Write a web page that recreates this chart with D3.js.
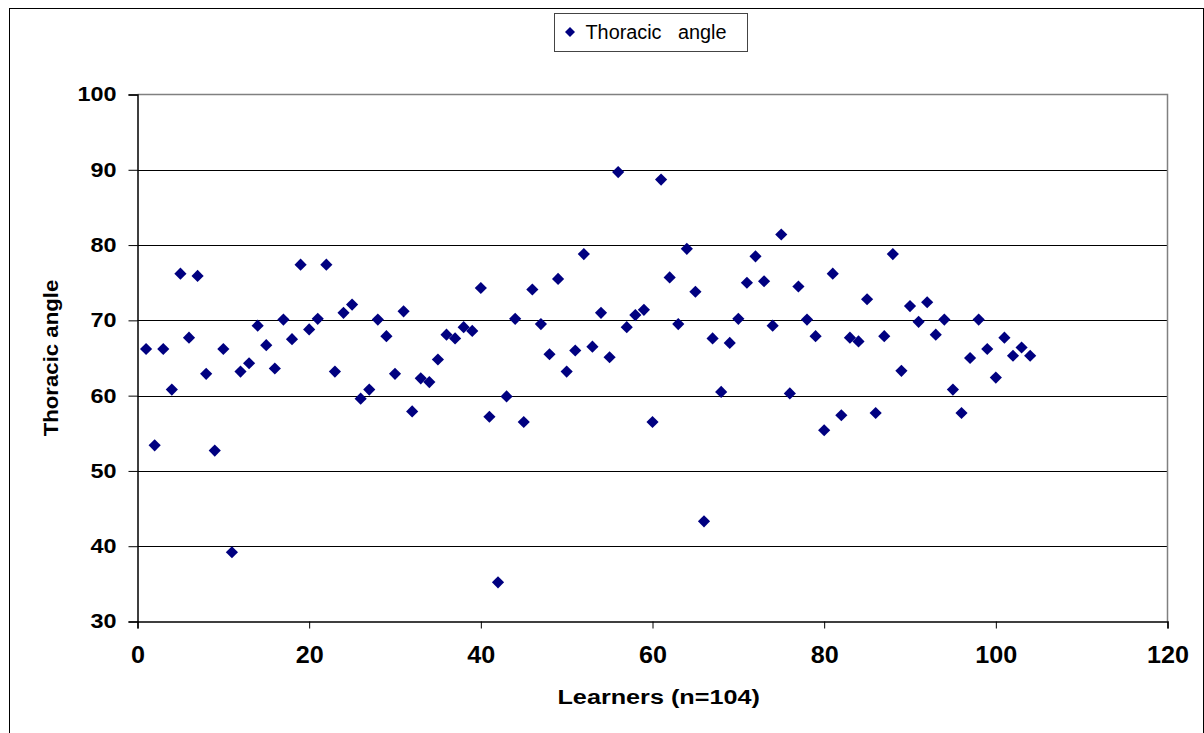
<!DOCTYPE html>
<html>
<head>
<meta charset="utf-8">
<script src="https://cdn.jsdelivr.net/npm/d3@7"></script>
<style>
  html, body { margin: 0; padding: 0; background: #fff; }
  svg { display: block; font-family: "Liberation Sans", Arial, sans-serif; }
</style>
</head>
<body>
<svg id="chart" width="1204" height="733"></svg>
<script>
// Thoracic angle per learner (learner number 1..104)
const learners = d3.range(1, 105);
const thoracicAngle = [
  66.2, 53.4, 66.2, 60.8, 76.2, 67.7, 75.9, 62.9, 52.7, 66.2,
  39.2, 63.2, 64.3, 69.3, 66.7, 63.6, 70.1, 67.5, 77.4, 68.8,
  70.2, 77.4, 63.2, 71.0, 72.1, 59.6, 60.8, 70.1, 67.9, 62.9,
  71.2, 57.9, 62.3, 61.8, 64.8, 68.1, 67.6, 69.1, 68.6, 74.3,
  57.2, 35.2, 59.9, 70.2, 56.5, 74.1, 69.5, 65.5, 75.5, 63.2,
  66.0, 78.8, 66.5, 71.0, 65.1, 89.7, 69.1, 70.7, 71.4, 56.5,
  88.7, 75.7, 69.5, 79.5, 73.8, 43.3, 67.6, 60.5, 67.0, 70.2,
  75.0, 78.5, 75.2, 69.3, 81.4, 60.3, 74.5, 70.1, 67.9, 55.4,
  76.2, 57.4, 67.7, 67.2, 72.8, 57.7, 67.9, 78.8, 63.3, 71.9,
  69.8, 72.4, 68.1, 70.1, 60.8, 57.7, 65.0, 70.1, 66.2, 62.4,
  67.7, 65.3, 66.4, 65.3
];
const xTicks = [0, 20, 40, 60, 80, 100, 120];
const yTicks = [30, 40, 50, 60, 70, 80, 90, 100];
const seriesName = "Thoracic   angle";
const xTitle = "Learners (n=104)";
const yTitle = "Thoracic angle";

const svg = d3.select("#chart");
const plot = { left: 137.5, right: 1167.5, top: 94.5, bottom: 621.5 };
const markColor = "#000080";
const font = "'Liberation Sans', Arial, sans-serif";

const x = d3.scaleLinear().domain([0, 120]).range([plot.left, plot.right]);
const y = d3.scaleLinear().domain([30, 100]).range([plot.bottom, plot.top]);

// Widen text horizontally by a factor (the labels use a broad face)
function widen(sel, factor) {
  sel.each(function () {
    const len = this.getComputedTextLength();
    d3.select(this)
      .attr("textLength", len * factor)
      .attr("lengthAdjust", "spacingAndGlyphs");
  });
}

// Outer chart frame
svg.append("rect")
  .attr("x", 9.5).attr("y", 8.5).attr("width", 1194).attr("height", 740)
  .attr("fill", "none").attr("stroke", "#000").attr("stroke-width", 1);

// Horizontal gridlines
svg.append("g")
  .selectAll("line")
  .data(yTicks.filter(v => v > 30 && v < 100))
  .join("line")
  .attr("x1", plot.left).attr("x2", plot.right)
  .attr("y1", d => Math.round(y(d)) + 0.5).attr("y2", d => Math.round(y(d)) + 0.5)
  .attr("stroke", "#000").attr("stroke-width", 1.2);

// Plot-area border (top and right in grey)
svg.append("path")
  .attr("d", `M${plot.left},${plot.top}H${plot.right}V${plot.bottom}`)
  .attr("fill", "none").attr("stroke", "#808080").attr("stroke-width", 1.5);

// Y axis
const yAxis = d3.axisLeft(y).tickValues(yTicks).tickSize(9).tickPadding(12).tickFormat(d3.format("d"));
const gy = svg.append("g").attr("transform", `translate(${plot.left},0)`).call(yAxis);
gy.select(".domain").attr("stroke", "#000").attr("stroke-width", 1.5);
gy.selectAll(".tick line").attr("stroke", "#000").attr("stroke-width", 1);
gy.selectAll(".tick text")
  .attr("font-size", 20).attr("font-weight", "bold").attr("fill", "#000")
  .attr("font-family", font)
  .call(widen, 1.17);

// X axis
const xAxis = d3.axisBottom(x).tickValues(xTicks).tickSize(7).tickPadding(18).tickFormat(d3.format("d"));
const gx = svg.append("g").attr("transform", `translate(0,${plot.bottom})`).call(xAxis);
gx.select(".domain").attr("stroke", "#000").attr("stroke-width", 1.5);
gx.selectAll(".tick line").attr("stroke", "#000").attr("stroke-width", 1);
gx.selectAll(".tick text")
  .attr("font-size", 23.5).attr("font-weight", "bold").attr("fill", "#000")
  .attr("font-family", font)
  .call(widen, 1.07);

// Axis titles
svg.append("text")
  .attr("x", 658.7).attr("y", 704)
  .attr("text-anchor", "middle")
  .attr("font-size", 20).attr("font-weight", "bold")
  .text(xTitle)
  .call(widen, 1.26);

svg.append("text")
  .attr("transform", "translate(57.7,358) rotate(-90)")
  .attr("text-anchor", "middle")
  .attr("font-size", 20).attr("font-weight", "bold")
  .text(yTitle)
  .call(widen, 1.11);

// Diamond markers
const diamond = d3.symbol().type(d3.symbolSquare).size(74);
const points = learners.map((l, i) => ({ l, v: thoracicAngle[i] }));
svg.append("g")
  .selectAll("path")
  .data(points)
  .join("path")
  .attr("d", diamond)
  .attr("transform", d => `translate(${x(d.l)},${y(d.v)}) rotate(45)`)
  .attr("fill", markColor);

// Legend
const legend = svg.append("g");
legend.append("rect")
  .attr("x", 554.5).attr("y", 13.5).attr("width", 193).attr("height", 38)
  .attr("fill", "#fff").attr("stroke", "#444").attr("stroke-width", 1);
legend.append("path")
  .attr("d", d3.symbol().type(d3.symbolSquare).size(50))
  .attr("transform", "translate(570,32) rotate(45)")
  .attr("fill", markColor);
legend.append("text")
  .attr("x", 585.5).attr("y", 39)
  .attr("font-size", 19.5)
  .style("white-space", "pre")
  .text(seriesName)
  .attr("textLength", 141)
  .attr("lengthAdjust", "spacingAndGlyphs");
</script>
</body>
</html>
